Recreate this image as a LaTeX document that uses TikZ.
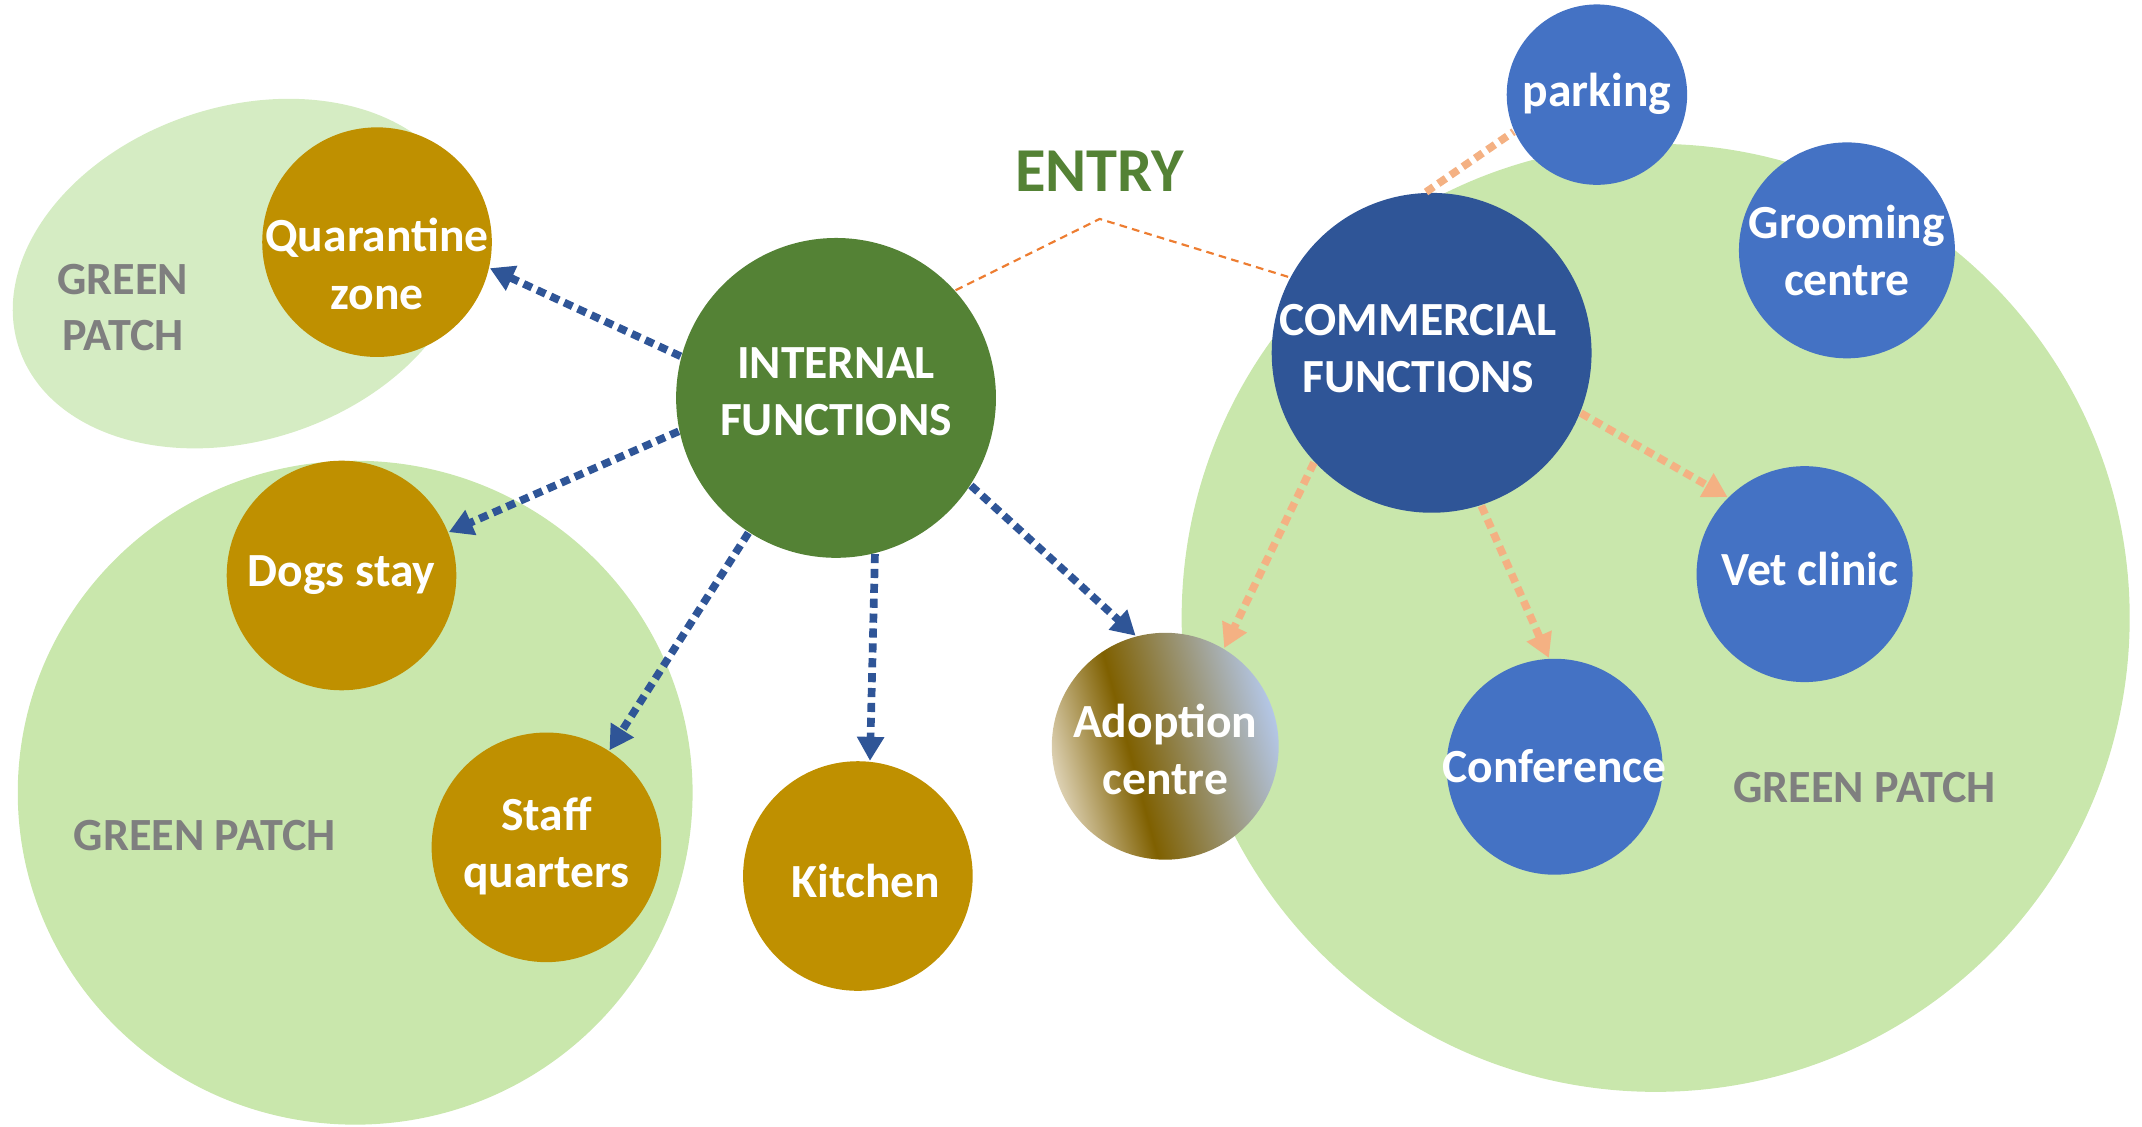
\documentclass[tikz,border=0pt]{standalone}
\usepackage{fontspec}
\setmainfont{Carlito}
\usepackage{tikz}
\usetikzlibrary{arrows.meta}

\definecolor{patchgreen}{HTML}{C9E7AC}
\definecolor{patchlight}{HTML}{D5ECC3}
\definecolor{gold}{HTML}{BF9000}
\definecolor{intgreen}{HTML}{548235}
\definecolor{comblue}{HTML}{2F5597}
\definecolor{subblue}{HTML}{4472C4}
\definecolor{peach}{HTML}{F4B183}
\definecolor{entryorange}{HTML}{ED7D31}
\definecolor{patchgray}{HTML}{7F7F7F}
\definecolor{adbeige}{HTML}{DCD0B2}
\definecolor{adbrown}{HTML}{7F6000}
\definecolor{adblue}{HTML}{B4C7E7}

\pgfdeclarehorizontalshading{adoptshade}{100bp}{color(0bp)=(adbeige); color(25bp)=(adbeige); color(42bp)=(adbrown); color(75bp)=(adblue); color(100bp)=(adblue)}

\newcommand\nodefont{\fontsize{9.9}{11.9}\selectfont\bfseries}
\newcommand\patchfont{\fontsize{9.6}{11.7}\selectfont\bfseries}
\NewDocumentCommand\ctext{O{0pt}O{0pt}m}{\raisebox{#1}[\height][\depth]{\makebox[0pt]{\hspace*{#2}\hspace*{#2}\begin{tabular}{@{}c@{}}#3\end{tabular}}}}

\begin{document}
\begin{tikzpicture}[line cap=round,line join=round,>={Triangle[length=5pt,width=5.4pt]},x=0.01cm,y=0.01cm,
  room/.style={circle,text=white,font=\nodefont,inner sep=0pt,minimum size=1.68cm},
  hub/.style={circle,text=white,font=\nodefont,inner sep=0pt,minimum size=2.34cm},
  inarrow/.style={->,comblue,line width=1.6pt,line cap=butt,dash pattern=on 1.9pt off 1.2pt},
  comarrow/.style={->,peach,line width=1.6pt,line cap=butt,dash pattern=on 1.9pt off 1.2pt},
  patchlabel/.style={text=patchgray,font=\patchfont,align=center,inner sep=0pt}]
\useasboundingbox (0,0) rectangle (1568,824.3);
% green patches
\fill[patchlight,rotate around={18.5:(177,624)}] (177,624) ellipse (172 and 122);
\fill[patchgreen] (260,244) ellipse (247 and 243);
\fill[patchgreen] (1212,372) circle (347);
\node[patchlabel] (gpleft) at (90,599) {GREEN\\PATCH};
\node[patchlabel] (gpbottom) at (150,213) {GREEN PATCH};
\node[patchlabel] (gpright) at (1365,248) {GREEN PATCH};
% entry
\node[text=intgreen,font=\fontsize{13}{15}\selectfont\bfseries,inner sep=0pt] (entrylbl) at (805,699) {ENTRY};
\coordinate (entry) at (805,664);
% internal side
\node[hub,fill=intgreen] (internal) at (612,533) {\ctext[0.5pt]{INTERNAL\\FUNCTIONS}};
\node[room,fill=gold] (quar) at (276,647) {\ctext[-5.6pt]{Quarantine\\zone}};
\node[room,fill=gold] (dogs) at (250,403) {\ctext{Dogs stay}};
\node[room,fill=gold] (staff) at (400,204) {\ctext{Staff\\quarters}};
\node[room,fill=gold] (kitchen) at (628,183) {\ctext[-2pt][1.7pt]{Kitchen}};
\node[room,minimum size=1.66cm,shading=adoptshade,shading angle=15] (adopt) at (853,278) {\ctext[-1.7pt]{Adoption\\centre}};
% commercial side
\node[hub,fill=comblue] (commercial) at (1048,566) {\ctext[0pt][-2.8pt]{COMMERCIAL\\FUNCTIONS}};
\node[room,fill=subblue,minimum size=1.32cm] (parking) at (1169,755) {\ctext{parking}};
\node[room,fill=subblue,minimum size=1.58cm] (groom) at (1352,641) {\ctext[-1pt]{Grooming\\centre}};
\node[room,fill=subblue,minimum size=1.58cm] (vet) at (1321,404) {\ctext[0pt][1.1pt]{Vet clinic}};
\node[room,fill=subblue,minimum size=1.58cm] (conf) at (1138,263) {\ctext[-0.8pt]{Conference}};
% links
\draw[entryorange,line width=0.45pt,line cap=butt,dash pattern=on 1.6pt off 1.1pt] (internal.42) -- (entry) -- (commercial.152);
\draw[inarrow] (internal.165) -- (quar.347);
\draw[inarrow] (internal.192) -- (dogs.22);
\draw[inarrow] (internal.237) -- (staff.57);
\draw[inarrow] (internal.284) -- (kitchen.84);
\draw[inarrow] (internal.327) -- (adopt.105);
\draw[comarrow,-] (commercial.92) -- (parking.204);
\draw[comarrow] (commercial.338) -- (vet.135);
\draw[comarrow] (commercial.288) -- (conf.93);
\draw[comarrow] (commercial.223) -- (adopt.59);
\end{tikzpicture}
\end{document}
